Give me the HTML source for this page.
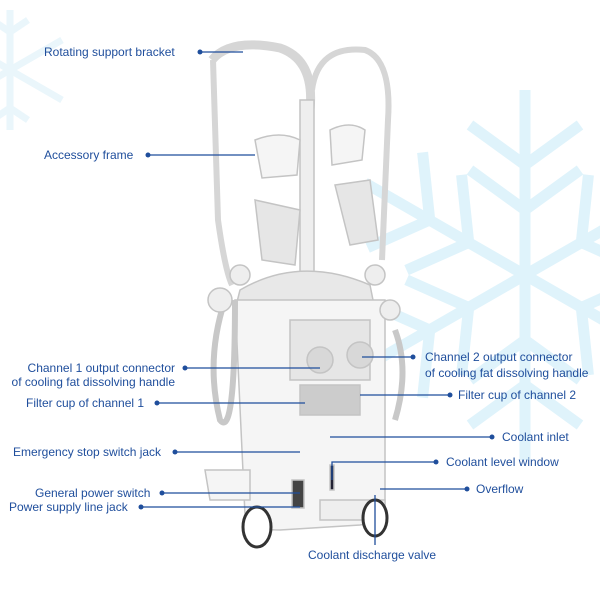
<!DOCTYPE html>
<html><head><style>
body{margin:0;background:#fff;}
svg{display:block;}
text{font-family:"Liberation Sans",sans-serif;font-size:12px;fill:#1f4e9c;}
</style></head><body>
<svg width="600" height="600" viewBox="0 0 600 600">
<g stroke="#dff3fb" stroke-width="11" fill="none" stroke-linecap="butt">
 <g transform="translate(525,275)">
  <line x1="0" y1="-185" x2="0" y2="185"/>
  <line x1="-160" y1="-92" x2="160" y2="92"/>
  <line x1="-160" y1="92" x2="160" y2="-92"/>
  <path d="M-55,-150 L0,-110 L55,-150 M-55,-105 L0,-65 L55,-105"/>
  <path d="M-55,150 L0,110 L55,150 M-55,105 L0,65 L55,105"/>
  <g transform="rotate(60)"><path d="M-55,-150 L0,-110 L55,-150 M-55,-105 L0,-65 L55,-105"/><path d="M-55,150 L0,110 L55,150 M-55,105 L0,65 L55,105"/></g>
  <g transform="rotate(-60)"><path d="M-55,-150 L0,-110 L55,-150 M-55,-105 L0,-65 L55,-105"/><path d="M-55,150 L0,110 L55,150 M-55,105 L0,65 L55,105"/></g>
 </g>
 <g transform="translate(10,70)" stroke="#eaf6fb" stroke-width="7">
  <line x1="0" y1="-60" x2="0" y2="60"/><line x1="-52" y1="-30" x2="52" y2="30"/><line x1="-52" y1="30" x2="52" y2="-30"/>
  <path d="M-18,-50 L0,-38 L18,-50 M-18,50 L0,38 L18,50"/>
 </g>
</g>
<g fill="#f5f5f5" stroke="#c4c4c4" stroke-width="1.5">
 <path d="M212,60 Q230,38 280,48 Q315,60 310,110" fill="none" stroke="#d6d6d6" stroke-width="9"/>
 <path d="M312,90 Q318,45 365,50 Q392,60 388,120 L382,260" fill="none" stroke="#d6d6d6" stroke-width="6"/>
 <path d="M213,60 L218,220 Q225,270 232,285" fill="none" stroke="#d6d6d6" stroke-width="6"/>
 <rect x="300" y="100" width="14" height="200" fill="#eee"/>
 <path d="M255,140 Q280,130 300,140 L297,175 L262,178 Z"/>
 <path d="M330,130 Q350,120 365,130 L362,160 L332,165 Z"/>
 <path d="M255,200 L300,210 L295,265 L262,260 Z" fill="#e6e6e6"/>
 <path d="M335,185 L370,180 L378,240 L350,245 Z" fill="#e6e6e6"/>
 <path d="M240,290 Q300,255 370,285 L375,310 L235,310 Z" fill="#e8e8e8"/>
 <path d="M235,300 L385,300 L385,505 Q385,520 360,525 L280,530 Q250,530 245,515 Z"/>
 <path d="M205,470 L250,470 L250,500 L210,500 Z"/>
 <rect x="290" y="320" width="80" height="60" fill="#e6e6e6"/>
 <circle cx="320" cy="360" r="13" fill="#d8d8d8"/>
 <circle cx="360" cy="355" r="13" fill="#d8d8d8"/>
 <rect x="300" y="385" width="60" height="30" fill="#ccc"/>
 <rect x="320" y="500" width="65" height="20" fill="#eee"/>
 <rect x="292" y="480" width="12" height="28" fill="#444"/>
 <rect x="330" y="465" width="4" height="25" fill="#223"/>
 <path d="M225,300 Q205,360 220,420 Q235,440 235,300" fill="none" stroke="#c8c8c8" stroke-width="6"/>
 <path d="M395,330 Q410,370 395,420" fill="none" stroke="#c8c8c8" stroke-width="6"/>
 <circle cx="220" cy="300" r="12" fill="#eee"/><circle cx="240" cy="275" r="10" fill="#eee"/>
 <circle cx="375" cy="275" r="10" fill="#eee"/><circle cx="390" cy="310" r="10" fill="#eee"/>
 <ellipse cx="257" cy="527" rx="14" ry="20" fill="#fff" stroke="#333" stroke-width="3"/>
 <ellipse cx="375" cy="518" rx="12" ry="18" fill="#fff" stroke="#333" stroke-width="3"/>
</g>
<g stroke="#1f4e9c" stroke-width="1.3" fill="none">
 <line x1="200" y1="52" x2="243" y2="52"/>
 <line x1="148" y1="155" x2="255" y2="155"/>
 <line x1="185" y1="368" x2="320" y2="368"/>
 <line x1="157" y1="403" x2="305" y2="403"/>
 <line x1="175" y1="452" x2="300" y2="452"/>
 <line x1="162" y1="493" x2="300" y2="493"/>
 <line x1="141" y1="507" x2="300" y2="507"/>
 <line x1="362" y1="357" x2="413" y2="357"/>
 <line x1="360" y1="395" x2="450" y2="395"/>
 <line x1="330" y1="437" x2="492" y2="437"/>
 <polyline points="332,480 332,462 436,462"/>
 <line x1="380" y1="489" x2="467" y2="489"/>
 <line x1="375" y1="495" x2="375" y2="545"/>
</g>
<g fill="#1f4e9c">
 <circle cx="200" cy="52" r="2.5"/><circle cx="148" cy="155" r="2.5"/><circle cx="185" cy="368" r="2.5"/>
 <circle cx="157" cy="403" r="2.5"/><circle cx="175" cy="452" r="2.5"/><circle cx="162" cy="493" r="2.5"/>
 <circle cx="141" cy="507" r="2.5"/><circle cx="413" cy="357" r="2.5"/><circle cx="450" cy="395" r="2.5"/>
 <circle cx="492" cy="437" r="2.5"/><circle cx="436" cy="462" r="2.5"/><circle cx="467" cy="489" r="2.5"/>
</g>
<text x="44" y="56">Rotating support bracket</text>
<text x="44" y="159">Accessory frame</text>
<text x="175" y="372" text-anchor="end">Channel 1 output connector</text>
<text x="175" y="386" text-anchor="end">of cooling fat dissolving handle</text>
<text x="26" y="407">Filter cup of channel 1</text>
<text x="13" y="456">Emergency stop switch jack</text>
<text x="35" y="497">General power switch</text>
<text x="9" y="511">Power supply line jack</text>
<text x="425" y="361">Channel 2 output connector</text>
<text x="425" y="377">of cooling fat dissolving handle</text>
<text x="458" y="399">Filter cup of channel 2</text>
<text x="502" y="441">Coolant inlet</text>
<text x="446" y="466">Coolant level window</text>
<text x="476" y="493">Overflow</text>
<text x="308" y="559">Coolant discharge valve</text>
</svg>
</body></html>
